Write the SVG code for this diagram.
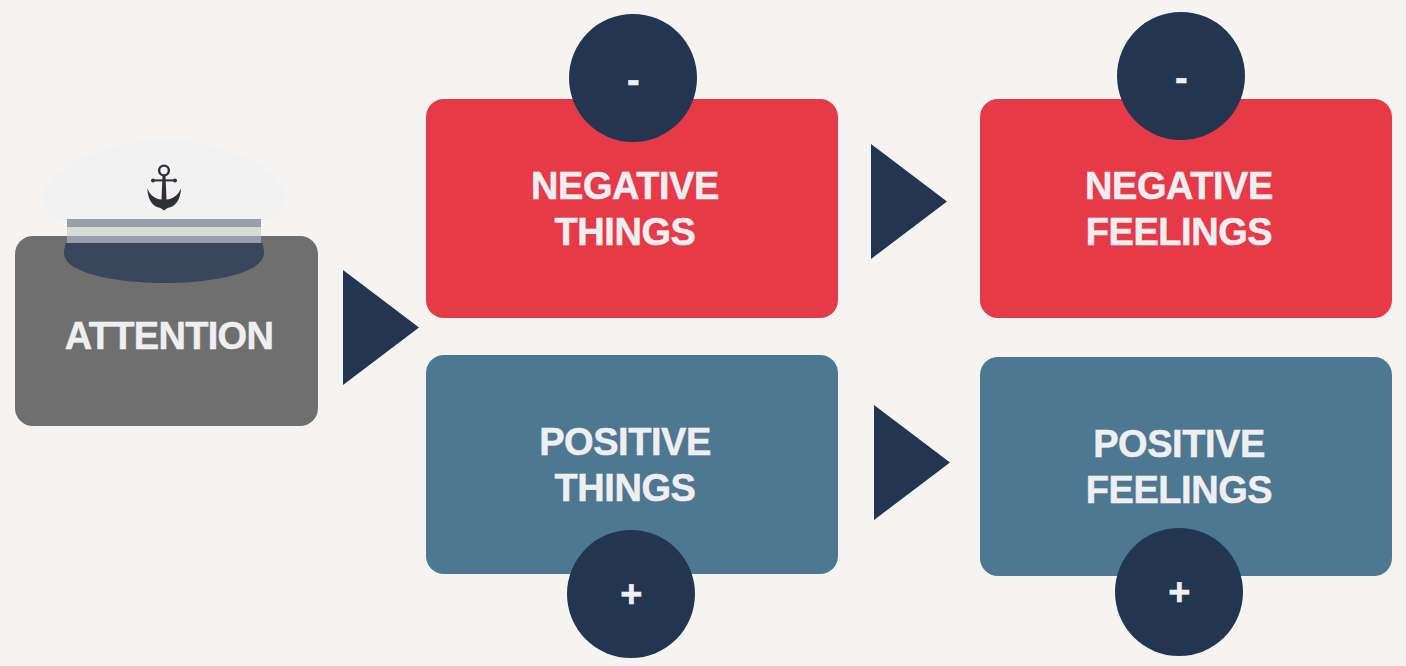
<svg xmlns="http://www.w3.org/2000/svg" width="1406" height="666" viewBox="0 0 1406 666">
<style>
.t{font-family:"Liberation Sans",Arial,sans-serif;font-weight:700;font-size:38px;letter-spacing:-.45px;fill:#efeff1;stroke:#efeff1;stroke-width:.5px;text-anchor:middle}
.a{letter-spacing:-.7px}
.red{fill:#e73a48}.blue{fill:#4e7792}.navy{fill:#233651}
</style>
<rect width="1406" height="666" fill="#f5f4f2"/>
<g id="attention">
<rect x="15" y="236" width="303" height="190" rx="18" fill="#6f6f6f"/>
<text class="t a" x="169" y="349">ATTENTION</text>
</g>
<g id="hat">
<path d="M43 199C43 170 105 140 164 140C223 140 285 170 285 199C285 210 275 219 261 221H67C53 219 43 210 43 199Z" fill="#f2f2f3"/>
<rect x="67" y="219" width="194" height="8" fill="#989eac"/>
<rect x="67" y="227" width="194" height="9" fill="#d5dcd5"/>
<rect x="67" y="236" width="194" height="8" fill="#989eac"/>
<path d="M66 243H262C264 248 264 252 264 254C262 275 205 283 164 283C123 283 66 275 64 254C64 252 64 248 66 243Z" fill="#3a465c"/>
<g fill="#2f3136">
<circle cx="164" cy="170.500" r="4.900" fill="none" stroke="#2f3136" stroke-width="2.400"/>
<path d="M162.500 175H165.500L166.500 200H161.500Z"/>
<rect x="153" y="179.400" width="22" height="2"/>
<circle cx="153" cy="180.400" r="2"/><circle cx="175" cy="180.400" r="2"/>
<path d="M147.300 188.500C150 195 155 199 161.500 199.500H166.500C173 199 178 195 181 188.500C180.500 200 175 207 167.500 208L164 210.500L160.500 208C153 207 147.800 200 147.300 188.500Z"/>
</g>
</g>
<g id="negative-things">
<rect x="426" y="99" width="412" height="219" rx="18" class="red"/>
<text class="t" x="625" y="199">NEGATIVE</text>
<text class="t" x="625" y="245">THINGS</text>
<circle cx="633" cy="78" r="64" class="navy"/>
<text class="t" x="633" y="93">-</text>
</g>
<g id="negative-feelings">
<rect x="980" y="99" width="412" height="219" rx="18" class="red"/>
<text class="t" x="1179" y="199">NEGATIVE</text>
<text class="t" x="1179" y="245">FEELINGS</text>
<circle cx="1181" cy="76" r="64" class="navy"/>
<text class="t" x="1181" y="91">-</text>
</g>
<g id="positive-things">
<rect x="426" y="355" width="412" height="219" rx="18" class="blue"/>
<text class="t" x="625" y="455">POSITIVE</text>
<text class="t" x="625" y="501">THINGS</text>
<circle cx="631" cy="594" r="64" class="navy"/>
<text class="t" x="631" y="607">+</text>
</g>
<g id="positive-feelings">
<rect x="980" y="357" width="412" height="219" rx="18" class="blue"/>
<text class="t" x="1179" y="457">POSITIVE</text>
<text class="t" x="1179" y="503">FEELINGS</text>
<circle cx="1179" cy="592" r="64" class="navy"/>
<text class="t" x="1179" y="605">+</text>
</g>
<g id="connectors" class="navy">
<polygon points="343,270 419,327.500 343,385"/>
<polygon points="871,144 947,201.500 871,259"/>
<polygon points="874,405 950,462.500 874,520"/>
</g>
</svg>
